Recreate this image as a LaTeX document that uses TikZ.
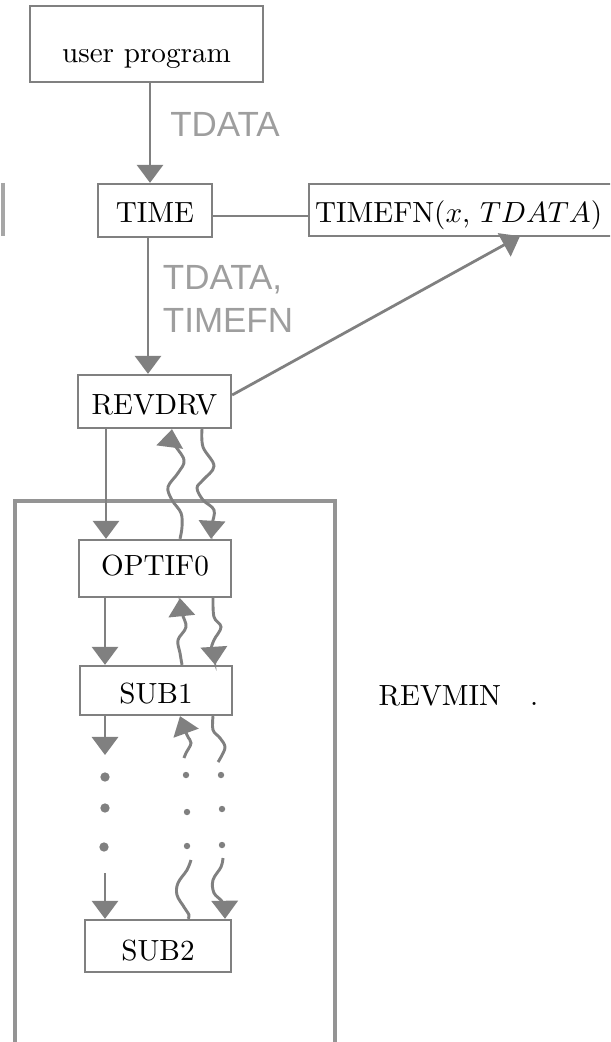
\documentclass[tikz,border=0pt]{standalone}
\usepackage{fontspec}
\newfontfamily\handfont{Liberation Sans}
\usetikzlibrary{arrows.meta}
\newcommand\pxu{0.343pt}
\begin{document}
\begin{tikzpicture}[x=0.343pt,y=-0.343pt,
  pencil/.style={draw=black!50, line width=0.95pt},
  wave/.style={draw=black!50, line width=1pt},
  tip/.style={-{Triangle[width=9pt,length=6.2pt]}},
  box/.style={draw=black!50, line width=0.8pt, inner sep=0pt, text depth=0pt,
              font=\fontsize{10}{12}\selectfont},
  boxline/.style={draw=black!50, line width=0.8pt},
  bracket/.style={draw=black!42, line width=1.3pt},
  hand/.style={font=\handfont\fontsize{12}{12}\selectfont, text=black!38, inner sep=0pt},
  dotbig/.style={fill=black!50},
]
\useasboundingbox (0,0) rectangle (610,1042);
\clip (0,0) rectangle (610,1042);
\fill[white] (0,0) rectangle (610,1042);

% REVMIN bracket
\draw[bracket] (15,1050) -- (15,501) -- (335,501) -- (335,1050);
% stray mark at left edge
\draw[black!35, line width=1.2pt] (3,183) -- (3,236);

% boxes
\node[box, minimum width=233*\pxu, minimum height=76*\pxu, text height=15pt, text depth=2pt] (user) at (146.5,44) {user program};
\node[box, minimum width=114*\pxu, minimum height=53*\pxu, text height=8.2pt] (time) at (155,210.5) {TIME};
\node[box, draw=none, minimum width=330*\pxu, minimum height=50*\pxu, text height=8.9pt, anchor=west] (timefn) at (309,210) {\hspace*{-11.3pt}TIMEFN($x$, $TDATA$)};
\draw[boxline] (timefn.north east) -- (timefn.north west) -- (timefn.south west) -- (timefn.south east);
\node[box, minimum width=153*\pxu, minimum height=53*\pxu, text height=9.2pt] (revdrv) at (154.5,401.5) {REVDRV};
\node[box, minimum width=152*\pxu, minimum height=57*\pxu, text height=5.1pt] (optif) at (155,568.5) {OPTIF0};
\node[box, minimum width=152*\pxu, minimum height=49*\pxu, text height=9.2pt] (subone) at (156,690.5) {SUB1};
\node[box, minimum width=146*\pxu, minimum height=52*\pxu, text height=9.6pt] (subtwo) at (158,946) {SUB2};
\node[font=\fontsize{10}{12}\selectfont, anchor=base, inner sep=0pt] (revmin) at (458.5,705) {REVMIN\quad.};

% handwritten labels
\node[hand] (lab1) at (225,124) {TDATA};
\node[hand, align=left] (lab2) at (228,299) {TDATA,\\[3pt]TIMEFN};

% straight connectors
\draw[pencil,tip] (user.south -| 150,0) -- (time.north -| 150,0);
\draw[pencil,tip] (time.south -| 148,0) -- (revdrv.north -| 148,0);
\draw[pencil] (time.east |- 0,216) -- (timefn.west |- 0,216);
\draw[pencil,tip] (revdrv.east |- 0,395) -- (timefn.south -| 520,0);
\draw[pencil,tip] (revdrv.south -| 106,0) -- (optif.north -| 106,0);
\draw[pencil,tip] (optif.south -| 105,0) -- (subone.north -| 105,0);
\coordinate (leftend) at (105,755);
\draw[pencil,tip] (subone.south -| 105,0) -- (leftend);
\coordinate (leftstart) at (105,873);
\draw[pencil,tip] (leftstart) -- (subtwo.north -| 105,0);

% wavy connectors
\draw[wave,tip] plot[smooth, tension=0.6] coordinates {(optif.north -| 180,0) (182,527) (181,513) (172,500) (168,487) (178,473) (184,460) (173,442) (revdrv.south -| 172,0)};
\draw[wave,tip] plot[smooth, tension=0.6] coordinates {(revdrv.south -| 202,0) (203,447) (214,466) (203,480) (197,488) (203,500) (214,510) (212,525) (optif.north -| 211,0)};
\draw[wave,tip] plot[smooth, tension=0.6] coordinates {(subone.north -| 182,0) (180,653) (178,640) (186,627) (182,613) (optif.south -| 180,0)};
\draw[wave,tip] plot[smooth, tension=0.6] coordinates {(optif.south -| 213,0) (214,617) (221,627) (214,640) (211,650) (214,657) (subone.north -| 215,0)};
\coordinate (etail) at (184,758);
\draw[wave,tip] plot[smooth, tension=0.6] coordinates {(etail) (186,753) (191,743) (187,735) (subone.south -| 180,0)};
\coordinate (fend) at (218,762);
\draw[wave] plot[smooth, tension=0.6] coordinates {(subone.south -| 213,0) (213,730) (220,738) (225,747) (221,757) (fend)};
\coordinate (gstart) at (191,860);
\draw[wave] plot[smooth, tension=0.6] coordinates {(gstart) (187,870) (178,883) (177,895) (184,907) (189,915) (subtwo.north -| 188,0)};
\coordinate (hstart) at (223,858);
\draw[wave,tip] plot[smooth, tension=0.6] coordinates {(hstart) (221,867) (213,880) (214,893) (223,903) (subtwo.north -| 225,0)};

% dots
\foreach \p in {(105,777),(105,808),(104,847)} \fill[dotbig] \p circle[radius=1.6pt];
\foreach \p in {(186,775),(187,812),(187,846),(221,775),(222,809),(222,845)} \fill[dotbig] \p circle[radius=1.1pt];
\end{tikzpicture}
\end{document}
